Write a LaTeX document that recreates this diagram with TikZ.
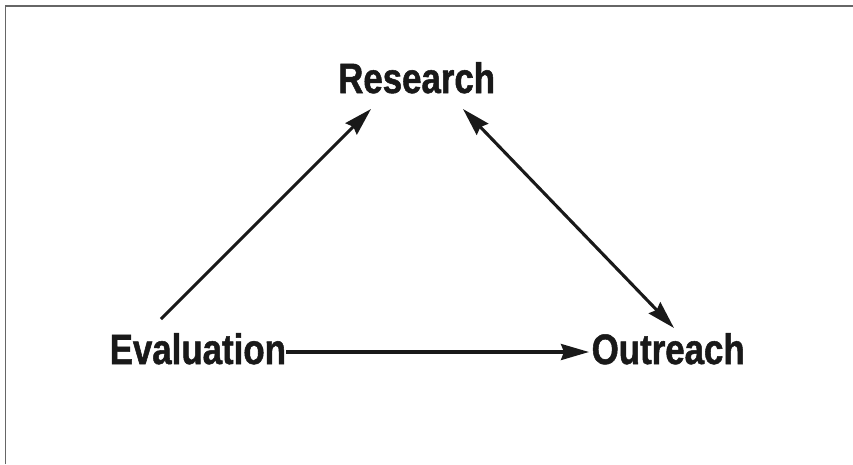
\documentclass[tikz,border=0pt]{standalone}
\usepackage{fontspec}
\setmainfont{Liberation Sans}[FakeStretch=0.82, BoldFeatures={FakeBold=1.2}]
\usetikzlibrary{arrows.meta}
\begin{document}
\begin{tikzpicture}[x=1pt,y=-1pt,
  >={Stealth[length=28pt,width=16pt,inset=3pt]},
  label/.style={inner sep=0pt, anchor=base west, font=\fontsize{42.5}{42.5}\selectfont\bfseries, text=black!90},
  link/.style={line width=3.1pt, black!90},
  frame/.style={line width=1.8pt, black!60}]
  \useasboundingbox (0,0) rectangle (853,464);
  % open frame: top and left edges only
  \draw[frame] (5.5,464) -- (5.5,6) -- (853,6);
  % labels
  \node[label] (res) at (338,93) {Research};
  \node[label] (eva) at (109.5,364) {Evaluation};
  \node[label] (out) at (591.5,364) {Outreach};
  % connector end points
  \coordinate (evaTop) at (161,319);
  \coordinate (resL) at (371,109);
  \coordinate (resR) at (463,109);
  \coordinate (outTop) at (674,328);
  \coordinate (evaR) at (286,352);
  \coordinate (outL) at (589,352);
  % connectors
  \draw[link,->] (evaTop) -- (resL);
  \draw[link,<->] (resR) -- (outTop);
  \draw[link,->] (evaR) -- (outL);
\end{tikzpicture}
\end{document}
